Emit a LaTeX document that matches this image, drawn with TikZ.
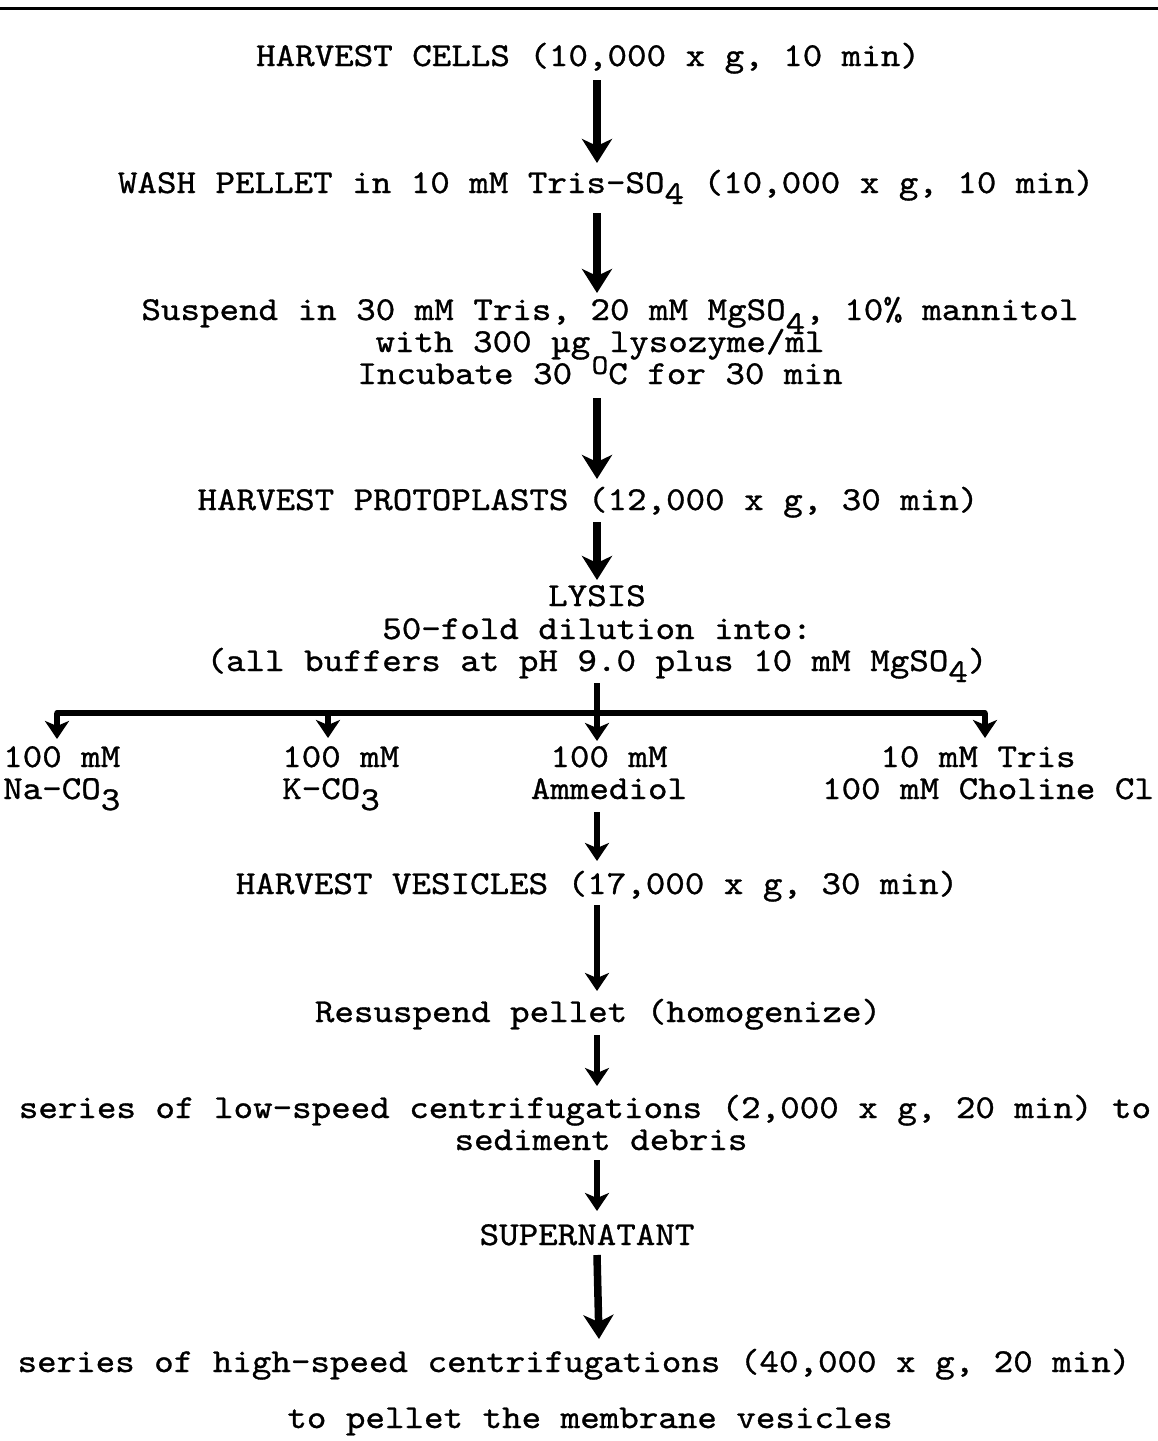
\documentclass[tikz,border=0pt]{standalone}
\usepackage{fontspec}
\usetikzlibrary{arrows.meta}
\newfontfamily\tyf{lmmono10-regular}[Extension=.otf,FakeStretch=1.11,FakeBold=0.9]
\newcommand\lowr[1]{\raisebox{-0.33em}{#1}}
\newcommand\degO{\raisebox{0.3em}{\scalebox{0.85}{O}}}
\newcommand\tyfont{\tyf\fontsize{33.5}{32}\selectfont}
\begin{document}
\begin{tikzpicture}[x=1pt,y=1pt,
  txt/.style={inner sep=0pt,anchor=base,font=\tyfont,text height=19pt,text depth=5pt},
  ltxt/.style={txt,anchor=base west},
  flow/.style={line width=7.5pt,-{Stealth[length=24pt,width=30pt,inset=7pt]}},
  sflow/.style={line width=6pt,-{Stealth[length=18pt,width=24pt,inset=5pt]}},
  bar/.style={line width=5.5pt}]
\useasboundingbox (0,0) rectangle (1158,-1441);
\fill[white] (0,0) rectangle (1158,-1441);
% top rule
\coordinate (rl) at (0,-8);
\coordinate (rr) at (1158,-8);
\draw[line width=3pt] (rl) -- (rr);

% texts
\node[txt] (t1) at (588,-66) {HARVEST CELLS (10,000 x g, 10 min)};
\node[txt] (t2) at (606,-193) {WASH PELLET in 10 mM Tris-SO\lowr{4} (10,000 x g, 10 min)};
\node[txt] (t3a) at (610,-320) {Suspend in 30 mM Tris, 20 mM MgSO\raisebox{-0.42em}{4}, 10\% mannitol};
\node[txt] (t3b) at (600,-352) {with 300 µg lysozyme/ml};
\node[txt] (t3c) at (600,-384) {Incubate 30 \degO C for 30 min};
\node[txt] (t4) at (588,-510) {HARVEST PROTOPLASTS (12,000 x g, 30 min)};
\node[txt] (t5a) at (597,-606) {LYSIS};
\node[txt] (t5b) at (597,-639) {50-fold dilution into:};
\node[txt] (t5c) at (597,-671) {(all buffers at pH 9.0 plus 10 mM MgSO\lowr{4})};
\node[ltxt] (o1a) at (3,-767) {100 mM};
\node[ltxt] (o1b) at (3,-799) {Na-CO\lowr{3}};
\node[ltxt] (o2a) at (282,-767) {100 mM};
\node[ltxt] (o2b) at (282,-799) {K-CO\lowr{3}};
\node[txt] (o3a) at (609,-767) {100 mM};
\node[txt] (o3b) at (609,-799) {Ammediol};
\node[txt] (o4a) at (978,-767) {10 mM Tris};
\node[txt] (o4b) at (988,-799) {100 mM Choline Cl};
\node[txt] (t6) at (597,-894) {HARVEST VESICLES (17,000 x g, 30 min)};
\node[txt] (t7) at (598,-1022) {Resuspend pellet (homogenize)};
\node[txt] (t8a) at (585,-1118) {series of low-speed centrifugations (2,000 x g, 20 min) to};
\node[txt] (t8b) at (601,-1150) {sediment debris};
\node[txt] (t9) at (587,-1245) {SUPERNATANT};
\node[txt] (t10a) at (574,-1372) {series of high-speed centrifugations (40,000 x g, 20 min)};
\node[txt] (t10b) at (590,-1428) {to pellet the membrane vesicles};

% arrow end points
\coordinate (a1s) at (597,-80);   \coordinate (a1e) at (597,-163);
\coordinate (a2s) at (597,-213);  \coordinate (a2e) at (597,-293);
\coordinate (a3s) at (597,-398);  \coordinate (a3e) at (597,-479);
\coordinate (a4s) at (597,-522);  \coordinate (a4e) at (597,-580);
\coordinate (a5s) at (597,-683);  \coordinate (a5e) at (597,-741);
\coordinate (bl) at (57,-713);    \coordinate (br) at (985,-713);
\coordinate (b1e) at (57,-739);   \coordinate (b2s) at (328,-713);
\coordinate (b2e) at (328,-738);  \coordinate (b4e) at (985,-738);
\coordinate (a6s) at (597,-812);  \coordinate (a6e) at (597,-861);
\coordinate (a7s) at (597,-905);  \coordinate (a7e) at (597,-991);
\coordinate (a8s) at (597,-1035); \coordinate (a8e) at (597,-1086);
\coordinate (a9s) at (597,-1160); \coordinate (a9e) at (597,-1211);
\coordinate (a10s) at (597,-1255);\coordinate (a10e) at (599,-1339);

\draw[flow] (a1s) -- (a1e);
\draw[flow] (a2s) -- (a2e);
\draw[flow] (a3s) -- (a3e);
\draw[flow] (a4s) -- (a4e);
\draw[sflow] (a5s) -- (a5e);
\draw[bar,line cap=round] (bl) -- (br);
\draw[sflow] (bl) -- (b1e);
\draw[sflow] (b2s) -- (b2e);
\draw[sflow] (br) -- (b4e);
\draw[sflow] (a6s) -- (a6e);
\draw[sflow] (a7s) -- (a7e);
\draw[sflow] (a8s) -- (a8e);
\draw[sflow] (a9s) -- (a9e);
\draw[flow] (a10s) -- (a10e);
\end{tikzpicture}
\end{document}
